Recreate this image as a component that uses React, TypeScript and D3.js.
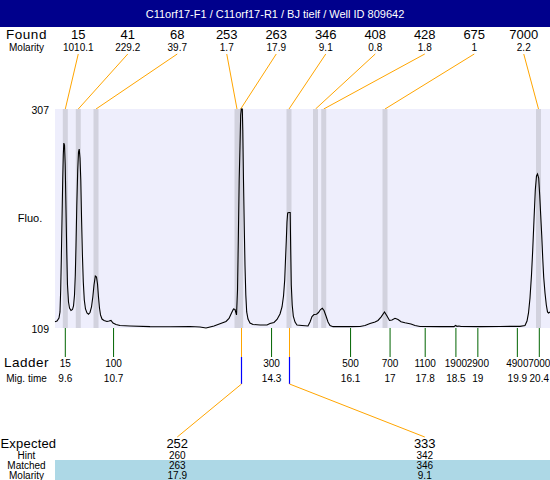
import React from 'react';
import * as d3 from 'd3';

const title = 'C11orf17-F1 / C11orf17-R1 / BJ tielf / Well ID 809642';
const foundSizes = ['15', '41', '68', '253', '263', '346', '408', '428', '675', '7000'];
const foundMolarity = ['1010.1', '229.2', '39.7', '1.7', '17.9', '9.1', '0.8', '1.8', '1', '2.2'];
const foundTimes = [9.6, 9.896, 10.3, 13.512, 13.596, 14.697, 15.301, 15.488, 16.884, 20.382];
const ladderSizes = ['15', '100', '300', '500', '700', '1100', '1900', '2900', '4900', '7000'];
const ladderTimes = [9.6, 10.7, 14.3, 16.1, 17, 17.8, 18.5, 19, 19.9, 20.4];
const expectedSizes = ['252', '333'];
const hintSizes = ['260', '342'];
const matchedSizes = ['263', '346'];
const matchedMolarity = ['17.9', '9.1'];
const matchedFoundIndex = [4, 5];
const yTicks = [109, 307];

const traceTimes = [9.365, 9.411, 9.456, 9.479, 9.495, 9.509, 9.525, 9.541, 9.554, 9.566, 9.582, 9.598, 9.616, 9.632, 9.65, 9.673, 9.696, 9.73, 9.764, 9.787, 9.81, 9.828, 9.844, 9.862, 9.883, 9.901, 9.917, 9.935, 9.953, 9.971, 9.99, 10.01, 10.033, 10.06, 10.094, 10.129, 10.163, 10.197, 10.227, 10.254, 10.284, 10.311, 10.334, 10.356, 10.379, 10.402, 10.436, 10.482, 10.55, 10.596, 10.641, 10.687, 10.755, 10.846, 11.074, 11.53, 11.986, 12.441, 12.669, 12.806, 12.897, 12.988, 13.079, 13.17, 13.262, 13.33, 13.387, 13.432, 13.467, 13.501, 13.524, 13.542, 13.562, 13.581, 13.596, 13.61, 13.633, 13.644, 13.66, 13.679, 13.694, 13.713, 13.733, 13.763, 13.808, 13.877, 14.036, 14.196, 14.264, 14.355, 14.424, 14.492, 14.538, 14.572, 14.599, 14.617, 14.636, 14.651, 14.667, 14.697, 14.724, 14.736, 14.749, 14.77, 14.795, 14.834, 14.879, 14.993, 15.13, 15.176, 15.221, 15.267, 15.324, 15.369, 15.415, 15.456, 15.495, 15.54, 15.586, 15.631, 15.7, 16.087, 16.315, 16.429, 16.543, 16.657, 16.725, 16.793, 16.873, 16.93, 16.987, 17.044, 17.112, 17.181, 17.249, 17.34, 17.477, 17.568, 17.682, 18.138, 18.457, 18.491, 18.525, 18.57, 18.616, 19.049, 19.505, 19.96, 20.074, 20.12, 20.154, 20.188, 20.222, 20.25, 20.279, 20.309, 20.336, 20.359, 20.386, 20.409, 20.432, 20.455, 20.478, 20.5, 20.53, 20.56, 20.587, 20.61, 20.644];
const traceFluo = [114.7, 115.3, 118.0, 123.5, 143.4, 170.5, 206.6, 242.8, 265.4, 276.2, 274.4, 256.4, 215.7, 179.5, 147.9, 132.5, 127.1, 124.8, 125.7, 128.9, 138.8, 156.9, 184.0, 220.2, 251.8, 268.1, 270.8, 262.7, 242.8, 206.6, 175.0, 150.6, 134.3, 126.2, 122.6, 121.4, 123.0, 128.0, 137.0, 147.9, 156.0, 155.1, 148.8, 137.0, 127.1, 120.8, 117.1, 115.8, 114.9, 115.3, 115.8, 113.5, 112.2, 111.3, 110.8, 110.2, 110.1, 110.4, 109.9, 109.0, 109.9, 110.8, 112.2, 113.5, 114.9, 117.6, 122.6, 126.2, 125.7, 120.8, 143.4, 188.6, 242.8, 274.4, 301.6, 307, 307, 288.0, 242.8, 197.6, 166.0, 138.8, 123.5, 117.1, 113.5, 112.2, 111.7, 111.7, 113.1, 114.0, 116.7, 121.7, 128.0, 137.9, 152.4, 170.5, 188.6, 204.8, 213.0, 213.4, 213.4, 179.5, 147.9, 129.8, 119.8, 114.4, 111.7, 111.3, 110.8, 114.4, 119.4, 121.2, 121.5, 123.0, 125.7, 126.8, 124.8, 119.8, 114.4, 111.3, 110.2, 110.2, 110.4, 111.3, 113.1, 114.4, 115.8, 118.9, 123.5, 119.8, 115.8, 116.2, 117.8, 116.7, 114.6, 113.7, 112.6, 111.3, 110.4, 110.2, 110.2, 111.3, 110.5, 110.8, 110.4, 110.2, 110.4, 110.5, 111.3, 115.3, 122.6, 136.1, 156.9, 179.5, 206.6, 233.8, 246.4, 248.2, 244.6, 229.2, 211.2, 193.1, 172.3, 155.1, 140.6, 129.8, 123.5, 122.6, 123.5];

const W = 550;
const H = 480;
const FONT = 'Arial, "Liberation Sans", sans-serif';

export default function App() {
  const plotLeft = 55, plotRight = 550, plotTop = 109, plotBottom = 328;
  const x = d3.scaleLinear().domain([9.6, 20.4]).range([65.3, 539.3]);
  const y = d3.scaleLinear().domain([yTicks[0], yTicks[1]]).range([plotBottom, plotTop]);
  const foundBand = d3.scaleBand<number>().domain(d3.range(foundSizes.length)).range([53.5, 548.5]);
  const expBand = d3.scaleBand<number>().domain(d3.range(expectedSizes.length)).range([53.5, 548.5]);
  const pts: [number, number][] = traceTimes.map((t, i) => [t, traceFluo[i]]);
  const line = d3.line<[number, number]>().x(d => x(d[0])).y(d => y(d[1]));
  const labelX = 26.5;
  const fx = (i: number) => (foundBand(i) as number) + foundBand.bandwidth() / 2;
  const ex = (i: number) => (expBand(i) as number) + expBand.bandwidth() / 2;

  return (
    <svg width={W} height={H} style={{ position: 'absolute', left: 0, top: 0 }} fontFamily={FONT}>
      <rect x={0} y={0} width={W} height={H} fill="#fff" />
      <rect x={0} y={0} width={W} height={27} fill="#00008C" />
      <text x={W / 2} y={18} fill="#fff" fontSize={11} textAnchor="middle">{title}</text>

      <text x={labelX} y={39} fontSize={13.5} textAnchor="middle" letterSpacing={0.5}>Found</text>
      <text x={labelX} y={51} fontSize={10} textAnchor="middle">Molarity</text>
      {foundSizes.map((s, i) => (
        <g key={'f' + i}>
          <text x={fx(i)} y={39} fontSize={13} textAnchor="middle">{s}</text>
          <text x={fx(i)} y={51} fontSize={10} textAnchor="middle">{foundMolarity[i]}</text>
          <line x1={fx(i)} y1={54} x2={x(foundTimes[i])} y2={plotTop} stroke="#FFA500" strokeWidth={1} />
        </g>
      ))}

      <rect x={plotLeft} y={plotTop} width={plotRight - plotLeft} height={plotBottom - plotTop} fill="#EEEEFC" />
      {foundTimes.map((t, i) => (
        <rect key={'b' + i} x={x(t) - 2.5} y={plotTop} width={5} height={plotBottom - plotTop} fill="#D2D2DE" />
      ))}
      <path d={line(pts) || ''} fill="none" stroke="#000" strokeWidth={1.1} />

      <text x={49} y={114} fontSize={10.5} textAnchor="end">{yTicks[1]}</text>
      <text x={49} y={333} fontSize={10.5} textAnchor="end">{yTicks[0]}</text>
      <text x={30} y={222} fontSize={11} textAnchor="middle">Fluo.</text>

      {ladderTimes.map((t, i) => (
        <g key={'l' + i}>
          <line x1={x(t)} y1={plotBottom} x2={x(t)} y2={357} stroke="#006400" strokeWidth={1} />
          <text x={x(t)} y={366.5} fontSize={10} textAnchor="middle">{ladderSizes[i]}</text>
          <text x={x(t)} y={381.5} fontSize={10} textAnchor="middle">{String(t)}</text>
        </g>
      ))}
      <text x={labelX} y={366.5} fontSize={13.5} textAnchor="middle" letterSpacing={0.5}>Ladder</text>
      <text x={labelX} y={381.5} fontSize={10} textAnchor="middle">Mig. time</text>

      {matchedFoundIndex.map((fi, i) => {
        const px = Math.round(x(foundTimes[fi])) + 0.5;
        return (
          <g key={'m' + i}>
            <line x1={px} y1={plotBottom} x2={px} y2={357} stroke="#FFA500" />
            <line x1={px} y1={357} x2={px} y2={384} stroke="#0000FF" strokeWidth={1.2} />
            <line x1={px} y1={384} x2={ex(i)} y2={437} stroke="#FFA500" />
          </g>
        );
      })}

      <rect x={plotLeft} y={460} width={plotRight - plotLeft} height={20} fill="#ADD8E6" />
      <text x={0.5} y={448} fontSize={13} textAnchor="start" letterSpacing={0.2}>Expected</text>
      <text x={labelX} y={458.5} fontSize={10} textAnchor="middle">Hint</text>
      <text x={labelX} y={469} fontSize={10} textAnchor="middle">Matched</text>
      <text x={labelX} y={478.5} fontSize={10} textAnchor="middle">Molarity</text>
      {expectedSizes.map((s, i) => (
        <g key={'e' + i}>
          <text x={ex(i)} y={448} fontSize={13} textAnchor="middle">{s}</text>
          <text x={ex(i)} y={458.5} fontSize={10} textAnchor="middle">{hintSizes[i]}</text>
          <text x={ex(i)} y={469} fontSize={10} textAnchor="middle">{matchedSizes[i]}</text>
          <text x={ex(i)} y={478.5} fontSize={10} textAnchor="middle">{matchedMolarity[i]}</text>
        </g>
      ))}
    </svg>
  );
}
